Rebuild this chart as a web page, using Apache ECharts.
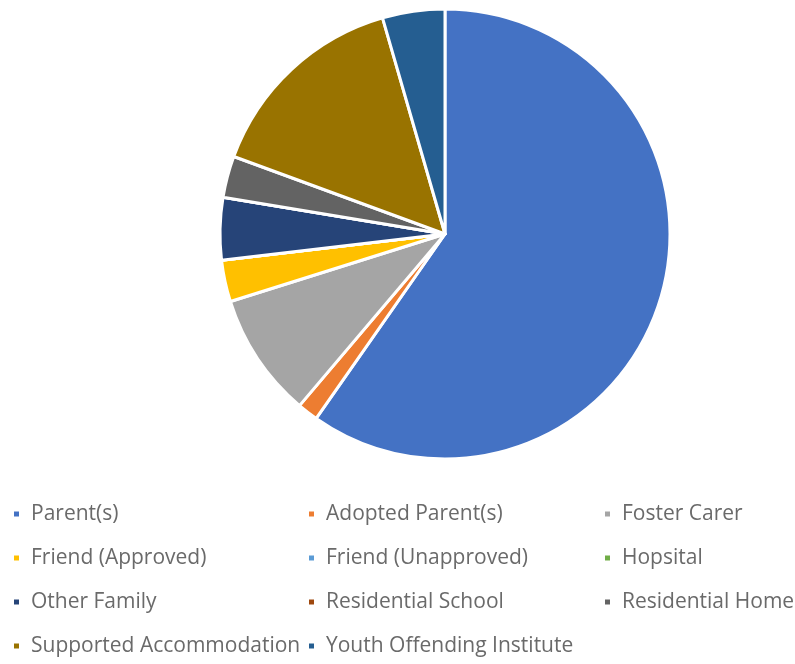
<!DOCTYPE html>
<html>
<head>
<meta charset="utf-8">
<style>
  html, body { margin: 0; padding: 0; background: #ffffff; }
  #chart { width: 795px; height: 664px; }
</style>
<script src="https://cdn.jsdelivr.net/npm/echarts@6/dist/echarts.min.js"></script>
</head>
<body>
<div id="chart"></div>
<script>
// Placement categories and number of young people in each
const categories = [
  'Parent(s)', 'Adopted Parent(s)', 'Foster Carer',
  'Friend (Approved)', 'Friend (Unapproved)', 'Hopsital',
  'Other Family', 'Residential School', 'Residential Home',
  'Supported Accommodation', 'Youth Offending Institute'
];
const counts = [40, 1, 6, 2, 0, 0, 3, 0, 2, 10, 3];
const colors = [
  '#4472C4', '#ED7D31', '#A5A5A5',
  '#FFC000', '#5B9BD5', '#70AD47',
  '#264478', '#9E480E', '#636363',
  '#997300', '#255E91'
];

// Legend grid: three columns, one item per legend block
const colLeft = [12, 307, 603];
const rowCenter = [514, 558, 602, 646];
const legendFont = 21;

const legends = categories.map((name, i) => ({
  data: [name],
  left: colLeft[i % 3],
  top: rowCenter[Math.floor(i / 3)] - legendFont / 2,
  padding: 0,
  orient: 'horizontal',
  icon: 'rect',
  itemWidth: 7,
  itemHeight: 7,
  selectedMode: false,
  textStyle: {
    fontFamily: 'Open Sans',
    fontSize: legendFont,
    color: '#6a6a6a',
    padding: [0, 0, 0, 6]
  }
}));

const chart = echarts.init(document.getElementById('chart'), null, { renderer: 'canvas' });
chart.setOption({
  animation: false,
  color: colors,
  legend: legends,
  series: [{
    type: 'pie',
    center: [445, 234],
    radius: 225,
    startAngle: 90,
    clockwise: true,
    stillShowZeroSum: true,
    label: { show: false },
    labelLine: { show: false },
    emphasis: { disabled: true },
    itemStyle: { borderColor: '#ffffff', borderWidth: 3 },
    data: categories.map((name, i) => ({ name, value: counts[i] }))
  }]
});
</script>
</body>
</html>
